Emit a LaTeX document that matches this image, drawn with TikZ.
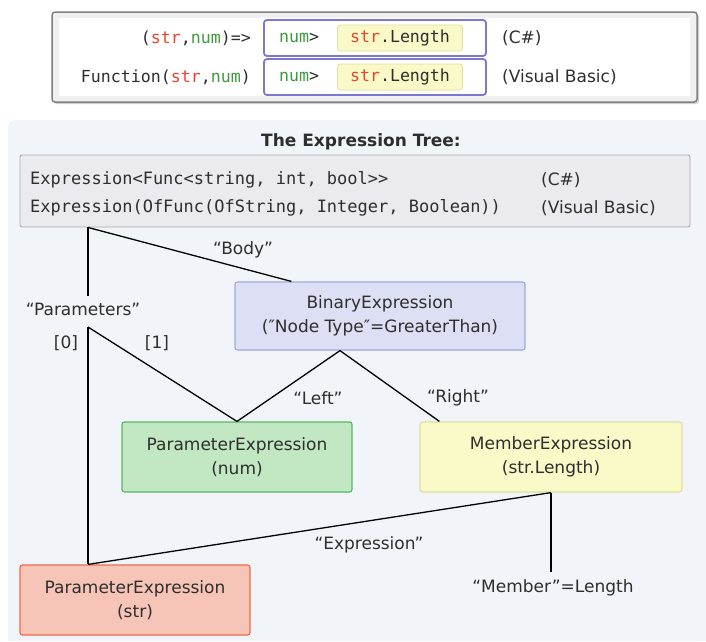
\documentclass[tikz,border=0pt]{standalone}
\usepackage{fontspec}
\setmainfont{DejaVu Sans}
\setmonofont{DejaVu Sans Mono}
\usetikzlibrary{calc}
\definecolor{txt}{HTML}{2E2E2E}
\definecolor{cred}{HTML}{E8452C}
\definecolor{cgreen}{HTML}{3C9A3C}
\definecolor{panel}{HTML}{F1F5F9}
\definecolor{gbfill}{HTML}{EBEBEF}
\definecolor{gbdraw}{HTML}{A9A9AE}
\definecolor{purp}{HTML}{7B78D2}
\definecolor{yfill}{HTML}{FAF9C8}
\definecolor{ydraw}{HTML}{E2DE9E}
\definecolor{bfill}{HTML}{DDE0F5}
\definecolor{bdraw}{HTML}{A3A8E3}
\definecolor{gfill}{HTML}{C2E8C3}
\definecolor{gdraw}{HTML}{5DB760}
\definecolor{rfill}{HTML}{F7C5B8}
\definecolor{rdraw}{HTML}{EE6A48}
\tikzset{
  sans/.style={font=\fontsize{17}{24}\selectfont, text=txt, inner sep=0pt},
  mono/.style={font=\ttfamily\fontsize{16.6}{24}\selectfont, text=txt, inner sep=0pt},
  monob/.style={font=\ttfamily\fontsize{17}{24}\selectfont, text=txt, inner sep=0pt},
  exprbox/.style={rounded corners=2.5pt, line width=1.2pt, align=center,
    font=\fontsize{17}{24}\selectfont, text=txt, inner sep=0pt},
  purpbox/.style={draw=purp, fill=white, line width=1.8pt, rounded corners=3pt,
    minimum width=222pt, minimum height=36pt},
  ybox/.style={mono, draw=ydraw, fill=yfill, line width=0.8pt, rounded corners=3pt,
    minimum width=125pt, minimum height=26pt},
  conn/.style={line width=1.3pt, black},
  lbl/.style={sans},
}
\newcommand{\rs}[1]{\textcolor{cred}{#1}}
\newcommand{\gn}[1]{\textcolor{cgreen}{#1}}
\begin{document}
\begin{tikzpicture}[x=1pt,y=-1pt]
\useasboundingbox (0,0) rectangle (706,641);
\fill[white] (0,0) rectangle (706,641);
% top frame
\fill[black!18, rounded corners=3pt] (54,14) rectangle (699,104);
\filldraw[fill=black!6, draw=black!50, line width=1.5pt, rounded corners=3pt] (52,12) rectangle (697,102);
\fill[white] (59,18) rectangle (690,96);
\node[purpbox] (pb1) at (375,38) {};
\node[purpbox] (pb2) at (375,77) {};
\node[mono, anchor=west] (n1) at (279,38) {\gn{num}>};
\node[mono, anchor=west] (n2) at (279,77) {\gn{num}>};
\node[ybox] (y1) at (400,38) {\rs{str}.Length};
\node[ybox] (y2) at (400,77) {\rs{str}.Length};
\node[mono, anchor=east] (l1) at (251,38) {(\rs{str},\gn{num})=>};
\node[mono, anchor=east] (l2) at (251,77) {Function(\rs{str},\gn{num})};
\node[sans, anchor=west] (c1) at (502,38) {(C\#)};
\node[sans, anchor=west] (c2) at (502,77) {(Visual Basic)};
% panel
\fill[panel, rounded corners=8pt] (8,120) -- (706,120) -- (706,641) -- (8,641) -- cycle;
\fill[panel] (690,120) rectangle (706,641);
\fill[panel] (8,630) rectangle (706,641);
\node[sans, font=\bfseries\fontsize{17}{24}\selectfont] (title) at (361,142) {The Expression Tree:};
\node[draw=gbdraw, fill=gbfill, line width=0.9pt, rounded corners=2pt, minimum width=670pt, minimum height=72pt, inner sep=0pt] (gb) at (355,191) {};
\node[monob, anchor=west] (e1) at (30,180) {Expression<Func<string, int, bool>{}>};
\node[monob, anchor=west] (e2) at (30,208) {Expression(OfFunc(OfString, Integer, Boolean))};
\node[sans, anchor=west] (e3) at (541,180) {(C\#)};
\node[sans, anchor=west] (e4) at (541,208) {(Visual Basic)};
% tree nodes
\node[exprbox, draw=bdraw, fill=bfill, minimum width=290pt, minimum height=68pt] (bin) at (380,316) {BinaryExpression\\(″Node Type″=GreaterThan)};
\node[exprbox, draw=gdraw, fill=gfill, minimum width=230pt, minimum height=70pt] (pnum) at (237,457) {ParameterExpression\\(num)};
\node[exprbox, draw=ydraw, fill=yfill, minimum width=262pt, minimum height=70pt] (mem) at (551,457) {MemberExpression\\(str.Length)};
\node[exprbox, draw=rdraw, fill=rfill, minimum width=230pt, minimum height=70pt] (pstr) at (135,600) {ParameterExpression\\(str)};
% labels
\node[lbl] (params) at (83,309) {“Parameters”};
\node[lbl] (body) at (243,250) {“Body”};
\node[lbl] (i0) at (66,343) {[0]};
\node[lbl] (i1) at (157,343) {[1]};
\node[lbl] (left) at (318,398) {“Left”};
\node[lbl] (right) at (458,398) {“Right”};
\node[lbl] (exprl) at (369,545) {“Expression”};
\node[lbl] (memb) at (553,588) {“Member”=Length};
\coordinate (split) at (88,327);
\coordinate (apex) at ($(bin.south)+(-40,0)$);
\coordinate (membend) at ($(mem.south |- memb.north)+(0,-8)$);
% connectors
\draw[conn] (gb.south -| split) -- (88,296);
\draw[conn] (gb.south -| split) -- ($(bin.north west)+(57,0)$);
\draw[conn] (split) -- (pstr.north -| split);
\draw[conn] (split) -- (pnum.north);
\draw[conn] (apex) -- (pnum.north);
\draw[conn] (apex) -- ($(mem.north west)+(20,0)$);
\draw[conn] (mem.south) -- (pstr.north -| split);
\draw[conn] (mem.south) -- (membend);
\end{tikzpicture}
\end{document}
